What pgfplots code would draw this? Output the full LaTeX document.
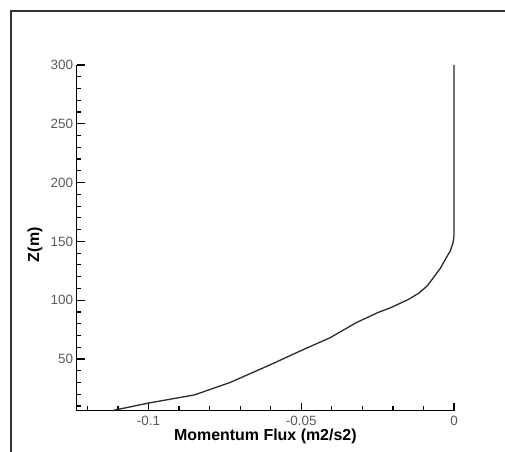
\documentclass[border=0pt]{standalone}
\usepackage{pgfplots}
\pgfplotsset{compat=1.18}
\usepackage{fontspec}
\setmainfont{Liberation Sans}
\definecolor{ticklab}{HTML}{5A5A5A}
\definecolor{curve}{HTML}{2A2A2A}
\begin{document}
\begin{tikzpicture}
\useasboundingbox (0,0) rectangle (505bp,452bp);
\draw[line width=1.1bp, color=black!80] (11bp,0) -- (11bp,441bp) -- (505bp,441bp);
\begin{axis}[
  at={(76.7bp,41.3bp)}, anchor=south west,
  scale only axis, width=377.3bp, height=345.7bp,
  xmin=-0.1235, xmax=0, ymin=6, ymax=300,
  axis x line=bottom, axis y line=left,
  axis line style={-, line width=1.5bp, black},
  tick align=inside,
  major tick length=8bp, minor tick length=4.5bp,
  every tick/.style={black, line width=1.2bp},
  xtick={-0.1,-0.05,0}, xticklabels={{-0.1},{-0.05},{0}},
  minor xtick={-0.12,-0.11,-0.09,-0.08,-0.07,-0.06,-0.04,-0.03,-0.02,-0.01},
  ytick={50,100,150,200,250,300},
  minor ytick={10,20,30,40,60,70,80,90,110,120,130,140,160,170,180,190,210,220,230,240,260,270,280,290},
  /pgf/number format/assume math mode=true,
  ticklabel style={font=\fontsize{13.5}{14}\selectfont, color=ticklab},
  xticklabel style={anchor=base, yshift=-14.3bp},
  xlabel={Momentum Flux (m2/s2)},
  ylabel={Z(m)},
  label style={font=\fontsize{16}{18}\selectfont\bfseries, color=black},
  xlabel style={at={(axis description cs:0.5,-0.0848)}, anchor=base},
  ylabel style={at={(axis description cs:-0.1105,0.48)}, anchor=center},
  clip=false,
]
\addplot[curve, line width=1.3bp] coordinates {
(-0.112,6)
(-0.100,12.5)
(-0.085,19.4)
(-0.0733,30)
(-0.0602,45)
(-0.0493,58)
(-0.0406,68)
(-0.0319,81)
(-0.0248,89.6)
(-0.021,93.3)
(-0.0150,100.5)
(-0.0115,106)
(-0.0088,112)
(-0.0065,120)
(-0.0045,127)
(-0.0030,134)
(-0.0012,142)
(-0.0003,149)
(0,155)
(0,300)
};
\end{axis}
\end{tikzpicture}
\end{document}
